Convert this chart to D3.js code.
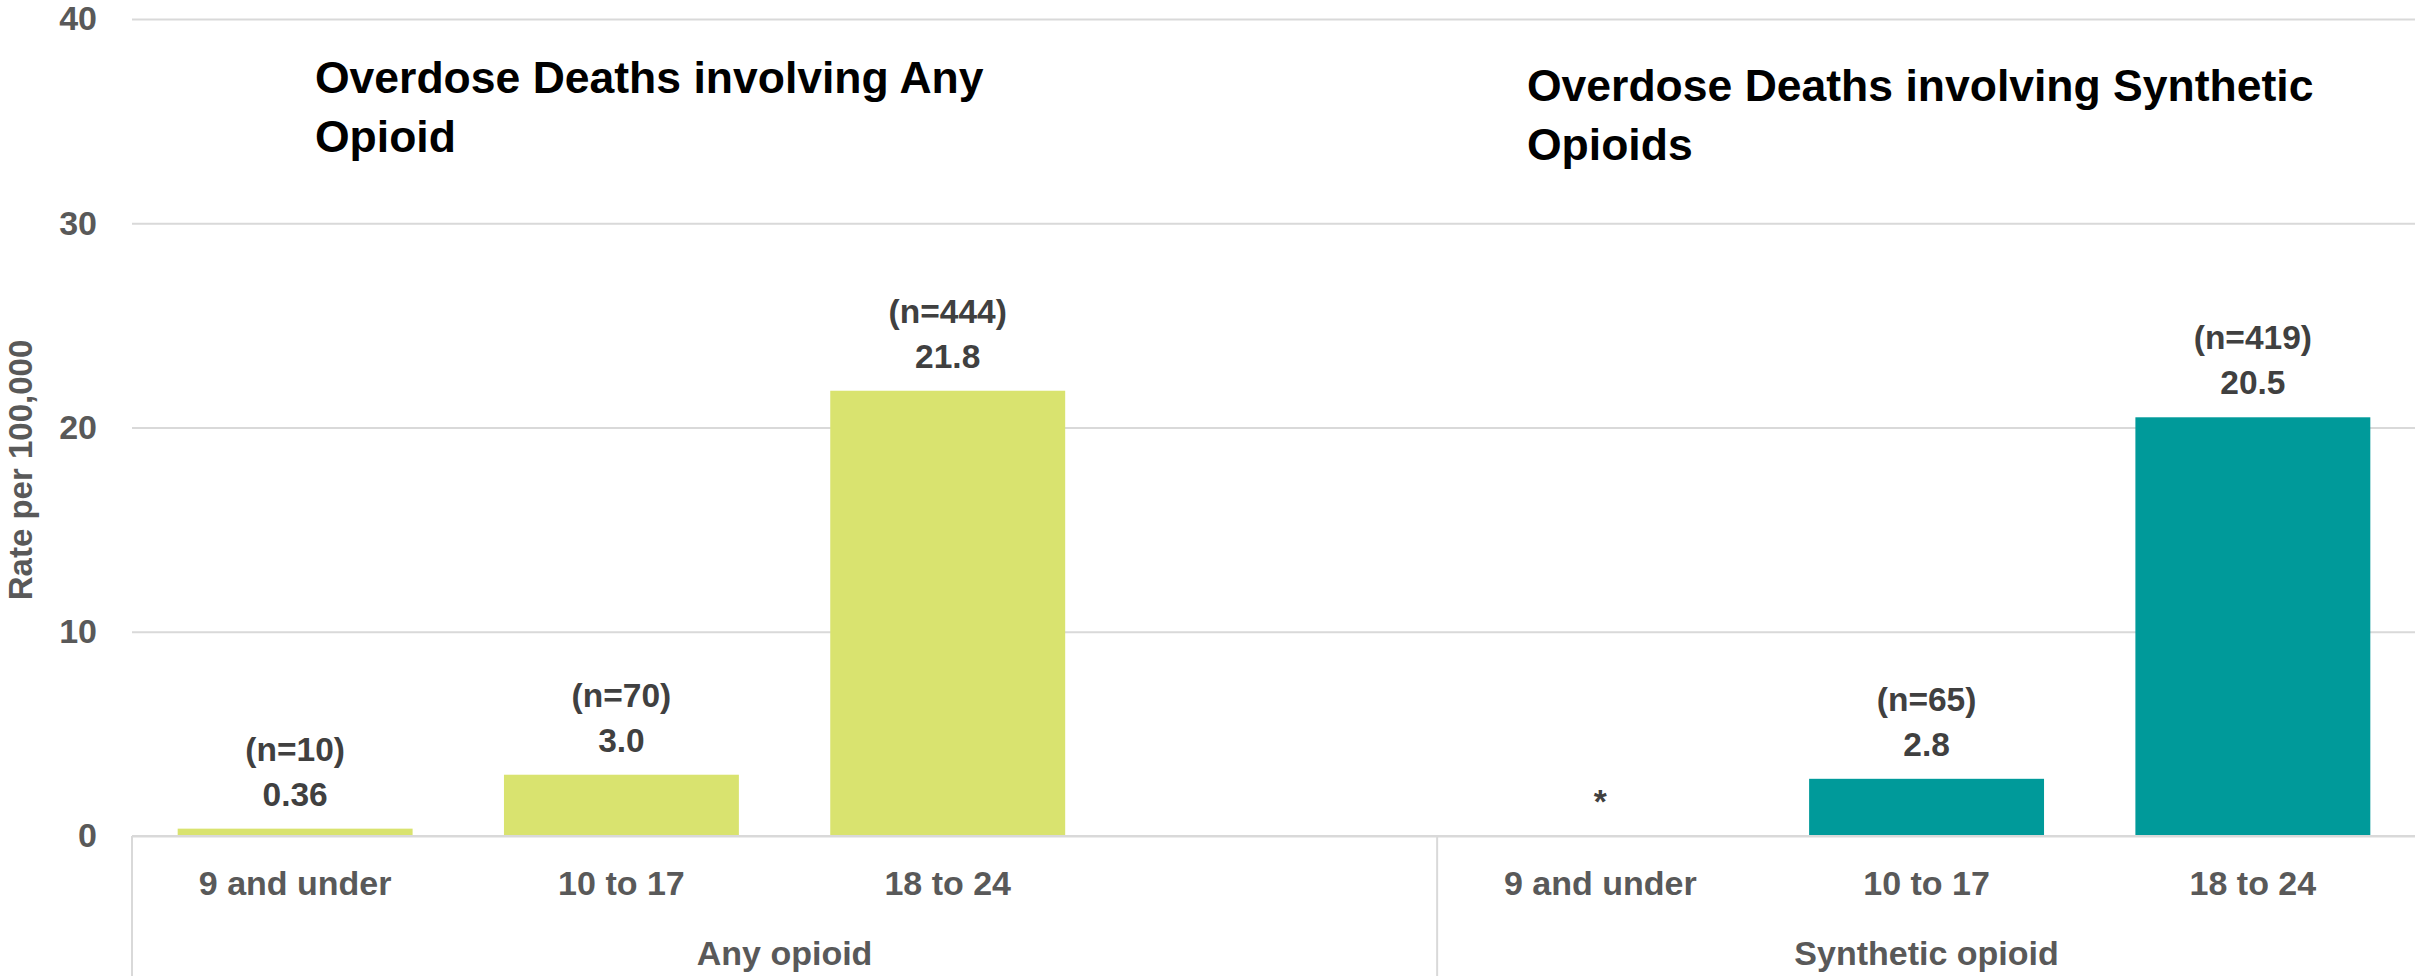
<!DOCTYPE html>
<html>
<head>
<meta charset="utf-8">
<title>Overdose death rates by age group</title>
<script src="https://cdn.jsdelivr.net/npm/d3@7"></script>
<style>
  html, body { margin: 0; padding: 0; background: #ffffff; }
  svg { display: block; font-family: "Liberation Sans", Arial, sans-serif; font-weight: bold; }
</style>
</head>
<body>
<svg id="chart" width="2415" height="976"></svg>
<script>
// Age groups shown under each drug category
const ageGroups = ["9 and under", "10 to 17", "18 to 24"];

// Drug categories (outer axis level)
const drugGroups = ["Any opioid", "Synthetic opioid"];

// Rates per 100,000 (null = suppressed, shown as "*")
const anyOpioidRates = [0.36, 3.0, 21.8];
const syntheticOpioidRates = [null, 2.8, 20.5];

// Death counts shown above each rate
const anyOpioidCounts = [10, 70, 444];
const syntheticOpioidCounts = [null, 65, 419];

// Panel headings
const panelTitles = [
  ["Overdose Deaths involving Any", "Opioid"],
  ["Overdose Deaths involving Synthetic", "Opioids"]
];

// Y axis
const yTicks = [0, 10, 20, 30, 40];
const yTitle = "Rate per 100,000";

const barColors = ["#D9E36F", "#009A9A"];

// Slots along the x axis: the first category has an empty trailing slot
const slots = [];
drugGroups.forEach((g, gi) => {
  const rates = gi === 0 ? anyOpioidRates : syntheticOpioidRates;
  const counts = gi === 0 ? anyOpioidCounts : syntheticOpioidCounts;
  ageGroups.forEach((a, ai) => {
    slots.push({ key: g + "|" + a, group: gi, age: a, value: rates[ai], n: counts[ai] });
  });
  if (gi === 0) slots.push({ key: g + "|spacer", group: gi, age: "", value: undefined, n: null, spacer: true });
});

const svg = d3.select("#chart");
const W = 2415, H = 976;
const plot = { left: 132, right: 2416, top: 19, bottom: 836 };

const x = d3.scaleBand()
  .domain(slots.map(d => d.key))
  .range([plot.left, plot.right])
  .paddingInner(0.28)
  .paddingOuter(0.14);

const y = d3.scaleLinear()
  .domain([0, 40])
  .range([plot.bottom, plot.top]);

const gridColor = "#D9D9D9";
const axisText = "#595959";
const labelText = "#404040";

// Horizontal gridlines
const grid = svg.append("g")
  .attr("transform", `translate(${plot.left},0)`)
  .call(d3.axisLeft(y).tickValues(yTicks).tickSize(-(W - plot.left)).tickFormat(""));
grid.select(".domain").remove();
grid.selectAll(".tick line").attr("stroke", gridColor).attr("stroke-width", 2);

// Y tick labels
const yAxis = svg.append("g")
  .attr("transform", `translate(${plot.left},0)`)
  .call(d3.axisLeft(y).tickValues(yTicks).tickSize(0).tickPadding(35).tickFormat(d3.format("d")));
yAxis.select(".domain").remove();
yAxis.selectAll(".tick text")
  .attr("fill", axisText)
  .style("font-size", "34px")
  .style("font-family", "'Liberation Sans', Arial, sans-serif")
  .style("font-weight", "bold");

// Y axis title
svg.append("text")
  .attr("transform", `translate(32,470) rotate(-90)`)
  .attr("text-anchor", "middle")
  .attr("fill", axisText)
  .style("font-size", "33px")
  .text(yTitle);

// Bars
svg.append("g").selectAll("rect")
  .data(slots.filter(d => d.value != null))
  .join("rect")
  .attr("x", d => x(d.key))
  .attr("width", x.bandwidth())
  .attr("y", d => y(d.value))
  .attr("height", d => y(0) - y(d.value))
  .attr("fill", d => barColors[d.group]);

// Category axis line
svg.append("line")
  .attr("x1", plot.left).attr("x2", W)
  .attr("y1", plot.bottom).attr("y2", plot.bottom)
  .attr("stroke", gridColor).attr("stroke-width", 2);

// Value labels
const fmtRate = v => v < 1 ? d3.format(".2f")(v) : d3.format(".1f")(v);
const labels = svg.append("g")
  .attr("text-anchor", "middle")
  .attr("fill", labelText)
  .style("font-size", "33.5px");

slots.filter(d => !d.spacer).forEach(d => {
  const cx = x(d.key) + x.bandwidth() / 2;
  if (d.value == null) {
    labels.append("text").attr("x", cx).attr("y", y(0) - 23).text("*");
    return;
  }
  labels.append("text").attr("x", cx).attr("y", y(d.value) - 23).text(fmtRate(d.value));
  labels.append("text").attr("x", cx).attr("y", y(d.value) - 68).text(`(n=${d.n})`);
});

// Inner category labels (age groups)
const xAxis = svg.append("g")
  .attr("transform", `translate(0,${plot.bottom})`)
  .call(d3.axisBottom(x).tickSize(0).tickPadding(35)
    .tickFormat(k => slots.find(s => s.key === k).age));
xAxis.select(".domain").remove();
xAxis.selectAll(".tick text")
  .attr("fill", axisText)
  .style("font-size", "34px")
  .style("font-family", "'Liberation Sans', Arial, sans-serif")
  .style("font-weight", "bold");

// Outer category labels and separators
const step = x.step();
const slotStart = k => x(k) - step * x.paddingInner() / 2;
drugGroups.forEach((g, gi) => {
  const keys = slots.filter(s => s.group === gi).map(s => s.key);
  const x0 = slotStart(keys[0]);
  const x1 = slotStart(keys[keys.length - 1]) + step;
  svg.append("line")
    .attr("x1", x0).attr("x2", x0)
    .attr("y1", plot.bottom).attr("y2", H)
    .attr("stroke", gridColor).attr("stroke-width", 2);
  svg.append("text")
    .attr("x", (x0 + x1) / 2)
    .attr("y", 965)
    .attr("text-anchor", "middle")
    .attr("fill", axisText)
    .style("font-size", "34px")
    .text(g);
});

// Panel headings
const titlePos = [{ x: 315, y: 93 }, { x: 1527, y: 101 }];
panelTitles.forEach((lines, i) => {
  const t = svg.append("text")
    .attr("x", titlePos[i].x)
    .attr("y", titlePos[i].y)
    .attr("fill", "#000000")
    .style("font-size", "44.5px");
  lines.forEach((line, li) => {
    t.append("tspan")
      .attr("x", titlePos[i].x)
      .attr("dy", li === 0 ? 0 : 59)
      .text(line);
  });
});
</script>
</body>
</html>
